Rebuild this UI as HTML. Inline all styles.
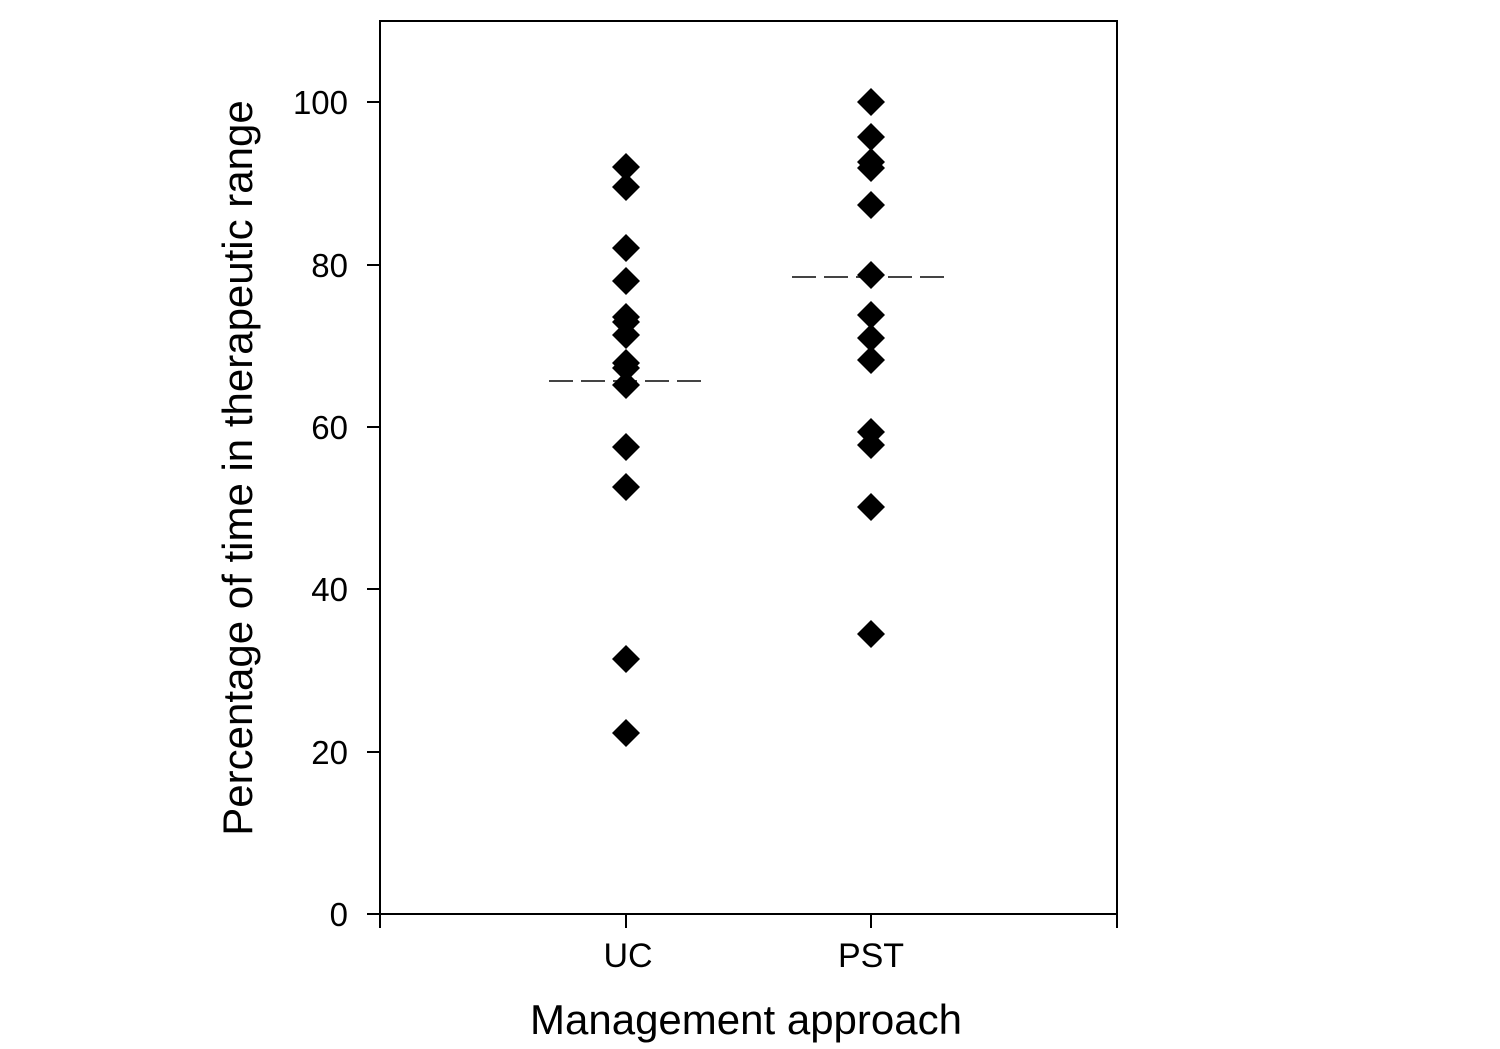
<!DOCTYPE html>
<html><head><meta charset="utf-8"><style>
html,body{margin:0;padding:0;background:#fff;}
svg{display:block;}
text{font-family:"Liberation Sans",Arial,sans-serif;fill:#000;}
</style></head><body>
<svg width="1500" height="1049" viewBox="0 0 1500 1049" xmlns="http://www.w3.org/2000/svg">
<rect x="0" y="0" width="1500" height="1049" fill="#fff"/>
<g stroke="#000" stroke-width="2" fill="none">
<path d="M380,928 V21 H1117 V928"/>
<path d="M380,914 H1117"/>
<path d="M367,914 H380 M367,752 H380 M367,589 H380 M367,427 H380 M367,265 H380 M367,102 H380"/>
<path d="M626,914 V928 M871,914 V928"/>
</g>
<g font-size="33" text-anchor="end">
<text x="348" y="926">0</text>
<text x="348" y="764">20</text>
<text x="348" y="601">40</text>
<text x="348" y="439">60</text>
<text x="348" y="277">80</text>
<text x="348" y="114">100</text>
</g>
<g font-size="34" text-anchor="middle">
<text x="628" y="967">UC</text>
<text x="871" y="967">PST</text>
</g>
<text x="746" y="1034" font-size="42" text-anchor="middle">Management approach</text>
<text transform="translate(252,468) rotate(-90)" font-size="42" text-anchor="middle">Percentage of time in therapeutic range</text>
<g stroke="#444" stroke-width="2" stroke-dasharray="24,8">
<path d="M549,381 H702"/>
<path d="M792,277 H946"/>
</g>
<g fill="#000">
<path id="d" d="M0,-14 L14,0 L0,14 L-14,0 Z" transform="translate(626,167)"/>
<use href="#d" transform="translate(0,20)"/>
<use href="#d" transform="translate(0,81)"/>
<use href="#d" transform="translate(0,114)"/>
<use href="#d" transform="translate(0,150)"/>
<use href="#d" transform="translate(0,155)"/>
<use href="#d" transform="translate(0,168)"/>
<use href="#d" transform="translate(0,196)"/>
<use href="#d" transform="translate(0,201)"/>
<use href="#d" transform="translate(0,218)"/>
<use href="#d" transform="translate(0,280)"/>
<use href="#d" transform="translate(0,320)"/>
<use href="#d" transform="translate(0,492)"/>
<use href="#d" transform="translate(0,566)"/>
<use href="#d" transform="translate(245,-65)"/>
<use href="#d" transform="translate(245,-30)"/>
<use href="#d" transform="translate(245,-5)"/>
<use href="#d" transform="translate(245,1)"/>
<use href="#d" transform="translate(245,38)"/>
<use href="#d" transform="translate(245,108)"/>
<use href="#d" transform="translate(245,148)"/>
<use href="#d" transform="translate(245,171)"/>
<use href="#d" transform="translate(245,193)"/>
<use href="#d" transform="translate(245,265)"/>
<use href="#d" transform="translate(245,278)"/>
<use href="#d" transform="translate(245,340)"/>
<use href="#d" transform="translate(245,467)"/>
</g>
</svg>
</body></html>
